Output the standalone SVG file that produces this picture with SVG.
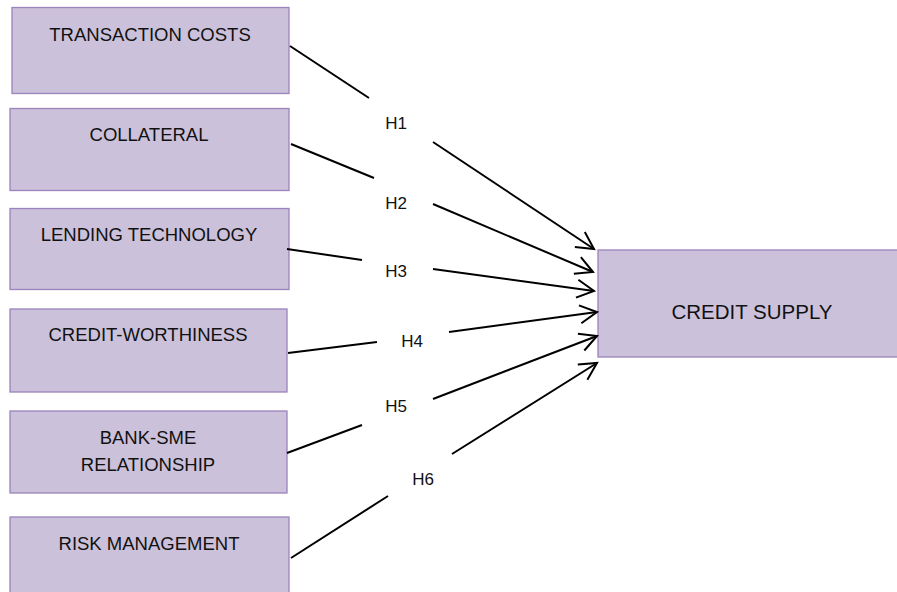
<svg xmlns="http://www.w3.org/2000/svg" width="897" height="592" viewBox="0 0 897 592">
<style>
.box{fill:#ccc1da;stroke:#9b83bd;stroke-width:1.3}
.t{font-family:"Liberation Sans",Arial,sans-serif;font-size:18.5px;fill:#111;text-anchor:middle}
.h{font-family:"Liberation Sans",Arial,sans-serif;font-size:17px;fill:#111;text-anchor:middle}
.c{stroke:#000;stroke-width:2;fill:none}
</style>
<defs>
<marker id="arr" markerUnits="userSpaceOnUse" markerWidth="24" markerHeight="22" viewBox="-21 -11 24 22" refX="0" refY="0" orient="auto">
<path d="M-17,-9 L0,0 L-17,9" fill="none" stroke="#000" stroke-width="2"/>
</marker>
</defs>
<rect width="897" height="592" fill="#fff"/>
<g id="n1"><rect class="box" x="12" y="7.5" width="277" height="86"/><text class="t" x="150" y="41">TRANSACTION COSTS</text></g>
<g id="n2"><rect class="box" x="10" y="108.5" width="279" height="82"/><text class="t" x="149" y="141">COLLATERAL</text></g>
<g id="n3"><rect class="box" x="10" y="208.5" width="279" height="81"/><text class="t" x="149" y="241">LENDING TECHNOLOGY</text></g>
<g id="n4"><rect class="box" x="10" y="309" width="277" height="83"/><text class="t" x="148" y="341">CREDIT-WORTHINESS</text></g>
<g id="n5"><rect class="box" x="10" y="411" width="277" height="82"/><text class="t" x="148" y="444">BANK-SME</text><text class="t" x="148" y="471">RELATIONSHIP</text></g>
<g id="n6"><rect class="box" x="10" y="517" width="279" height="80"/><text class="t" x="149" y="550">RISK MANAGEMENT</text></g>
<g id="n7"><rect class="box" x="598" y="250" width="305" height="107"/><text class="t" x="752" y="319" style="font-size:20.5px">CREDIT SUPPLY</text></g>
<g id="connectors">
<line class="c" x1="290" y1="46" x2="369" y2="98"/>
<line class="c" x1="433" y1="142" x2="594" y2="249" marker-end="url(#arr)"/>
<line class="c" x1="291" y1="144" x2="374" y2="178"/>
<line class="c" x1="433" y1="204" x2="593" y2="272" marker-end="url(#arr)"/>
<line class="c" x1="287" y1="249" x2="362" y2="260"/>
<line class="c" x1="433" y1="269" x2="594" y2="291" marker-end="url(#arr)"/>
<line class="c" x1="288" y1="353" x2="377" y2="342"/>
<line class="c" x1="449" y1="332" x2="597" y2="312" marker-end="url(#arr)"/>
<line class="c" x1="287" y1="453" x2="362" y2="425"/>
<line class="c" x1="433" y1="399" x2="597" y2="336" marker-end="url(#arr)"/>
<line class="c" x1="291" y1="558" x2="388" y2="496"/>
<line class="c" x1="452" y1="454" x2="597" y2="363" marker-end="url(#arr)"/>
<text class="h" x="396" y="129">H1</text>
<text class="h" x="396" y="209">H2</text>
<text class="h" x="396" y="277">H3</text>
<text class="h" x="412" y="347">H4</text>
<text class="h" x="396" y="412">H5</text>
<text class="h" x="423" y="485">H6</text>
</g>
</svg>
